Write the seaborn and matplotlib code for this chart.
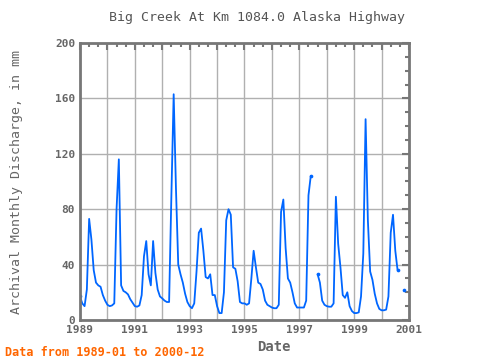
import numpy as np
import pandas as pd
import matplotlib
matplotlib.use('Agg')
import matplotlib.pyplot as plt
import seaborn as sns
from matplotlib.ticker import MultipleLocator, FixedLocator, FuncFormatter

nan = np.nan

# monthly discharge (mm)
d1989 = [17, 12, 10, 22, 73, 58, 36, 27, 25, 24, 18, 14]
d1990 = [11, 10, 10.5, 12, 80, 116, 25, 21, 20, 18.5, 15, 12.5]
d1991 = [10, 9.6, 10.5, 18, 46, 57, 33, 25, 57, 34, 22, 17]
d1992 = [15.6, 14, 13, 13, 90, 163, 95, 40, 33, 27, 19, 13]
d1993 = [10, 8.5, 12, 35, 63, 66, 50, 31, 30, 33, 18, 18]
d1994 = [10, 5, 5, 20, 72, 80, 76, 38, 37, 28, 13, 12]
d1995 = [12, 11, 12, 30, 50, 38, 27, 26, 22, 14, 11, 10]
d1996 = [9, 8.5, 8.5, 11, 78, 87, 52, 30, 27, 20, 12, 9]
d1997 = [9, 9, 9, 14, 90, 104, nan, nan, 33, 27, 14, 11]
d1998 = [10, 9.6, 9.6, 12, 89, 55, 38, 18, 16, 20, 10, 6.5]
d1999 = [5, 5, 5.5, 17, 48, 145, 72, 35, 29, 19, 12, 8]
d2000 = [7, 7, 7.5, 17, 63, 76, 50, 36, nan, nan, 22, nan]

discharge = (d1989 + d1990 + d1991 + d1992 + d1993 + d1994 +
             d1995 + d1996 + d1997 + d1998 + d1999 + d2000)

dates = pd.date_range('1989-01-01', periods=len(discharge), freq='MS')
df = pd.DataFrame({'t': dates.year + (dates.month - 1) / 12.0,
                   'q': discharge})
df['seg'] = df['q'].isna().cumsum()
prev_nan = df['q'].shift(1).isna()
next_nan = df['q'].shift(-1).isna()
ends = df[df['q'].notna() & (prev_nan | next_nan)]
valid = df.dropna()

sns.set_style('white')
plt.rcParams['font.family'] = ['DejaVu Sans Mono', 'DejaVu Sans']

fig = plt.figure(figsize=(4.8, 3.6), dpi=100)
ax = fig.add_axes([80 / 480, 1 - 320 / 360, 329 / 480, 277 / 360])

blue = '#0066ff'
sns.lineplot(data=valid, x='t', y='q', units='seg', estimator=None,
             color=blue, linewidth=1.3, ax=ax, legend=False)
sns.scatterplot(data=ends, x='t', y='q', color=blue, s=7, marker='o',
                linewidth=0, ax=ax, legend=False)

ax.set_xlim(1989, 2001)
ax.set_ylim(0, 200)

ax.xaxis.set_major_locator(MultipleLocator(1))
ax.xaxis.set_minor_locator(MultipleLocator(1 / 3))
ax.xaxis.set_major_formatter(FuncFormatter(
    lambda v, p: '%d' % round(v) if round(v) % 2 == 1 else ''))
ax.yaxis.set_major_locator(MultipleLocator(40))
ax.yaxis.set_minor_locator(MultipleLocator(10))

gray = '#777777'
txt = '#666666'
ax.grid(True, which='major', color='#b0b0b0', linewidth=1)
for s in ax.spines.values():
    s.set_color(gray)
    s.set_linewidth(2)
ax.tick_params(which='both', direction='in', top=True, right=True,
               color=gray, labelcolor=txt, labelsize=8)
ax.tick_params(which='major', length=5, width=1.5)
ax.tick_params(which='minor', length=3, width=1.5)
for lab in ax.get_xticklabels() + ax.get_yticklabels():
    lab.set_fontweight('bold')
ax.set_xlabel('')
ax.set_ylabel('')

fig.text(257 / 480, 1 - 18 / 360, 'Big Creek At Km 1084.0 Alaska Highway',
         ha='center', va='center', fontsize=9.5, color='#555555')
fig.text(274 / 480, 1 - 347 / 360, 'Date', ha='center', va='center',
         fontsize=10, fontweight='bold', color=txt)
fig.text(17 / 480, 1 - 182 / 360, 'Archival Monthly Discharge, in mm',
         ha='center', va='center', rotation=90, fontsize=9.5, color=txt)
fig.text(5 / 480, 1 - 352 / 360, 'Data from 1989-01 to 2000-12',
         ha='left', va='center', fontsize=8.5, fontweight='bold',
         color='#ff6600')

fig.savefig('out.png', dpi=100)
